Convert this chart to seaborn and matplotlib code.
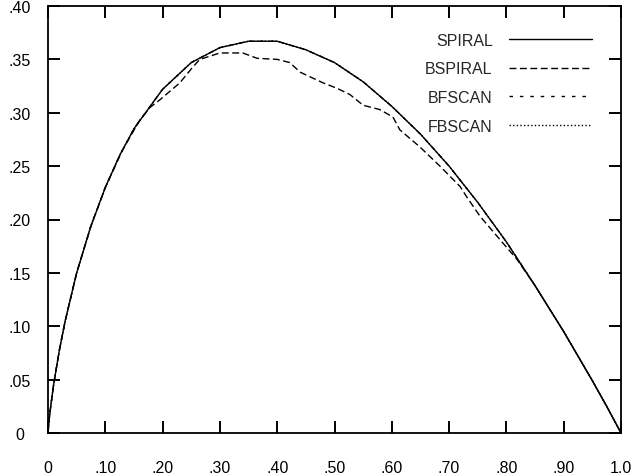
import matplotlib
matplotlib.use("Agg")
import matplotlib.pyplot as plt
import seaborn as sns
import pandas as pd
import numpy as np

# ---- data ----
spiral_x = [0, 0.0025, 0.005, 0.01, 0.02, 0.03, 0.05, 0.075, 0.10, 0.125, 0.15, 0.20, 0.25,
            0.30, 0.35, 0.40, 0.45, 0.50, 0.55, 0.60, 0.65, 0.70, 0.75, 0.80, 0.85,
            0.90, 0.95, 0.975, 1.0]
spiral_y = [0, 0.015, 0.026, 0.046, 0.078, 0.105, 0.150, 0.194, 0.230, 0.260, 0.285, 0.322, 0.347,
            0.361, 0.367, 0.367, 0.359, 0.347, 0.329, 0.306, 0.280, 0.250, 0.216, 0.179, 0.138,
            0.095, 0.049, 0.025, 0]

bspiral_x = [0, 0.0025, 0.005, 0.01, 0.02, 0.03, 0.05, 0.075, 0.10, 0.13, 0.16, 0.178, 0.195, 0.23,
             0.253, 0.265, 0.30, 0.34, 0.365, 0.40, 0.422, 0.44, 0.48, 0.504, 0.527, 0.55, 0.579,
             0.602, 0.614, 0.649, 0.684, 0.719, 0.731, 0.754, 0.789, 0.818, 0.85, 0.90, 0.95,
             0.975, 1.0]
bspiral_y = [0, 0.015, 0.026, 0.046, 0.078, 0.105, 0.150, 0.194, 0.230, 0.265, 0.293, 0.305, 0.312,
             0.328, 0.343, 0.350, 0.356, 0.356, 0.351, 0.350, 0.347, 0.338, 0.328, 0.323, 0.317,
             0.307, 0.303, 0.296, 0.284, 0.268, 0.250, 0.231, 0.221, 0.203, 0.181, 0.163, 0.138,
             0.095, 0.049, 0.025, 0]

bfscan_x = spiral_x
bfscan_y = [0, 0.015, 0.026, 0.046, 0.078, 0.105, 0.150, 0.194, 0.230, 0.260, 0.285, 0.322, 0.347,
            0.361, 0.367, 0.367, 0.359, 0.347, 0.329, 0.306, 0.280, 0.250, 0.216, 0.179, 0.138,
            0.095, 0.049, 0.025, 0]
fbscan_x = spiral_x
fbscan_y = [0, 0.015, 0.026, 0.046, 0.078, 0.105, 0.150, 0.194, 0.230, 0.260, 0.285, 0.322, 0.347,
            0.361, 0.367, 0.367, 0.359, 0.347, 0.329, 0.306, 0.280, 0.250, 0.216, 0.179, 0.138,
            0.095, 0.049, 0.025, 0]

series_names = ["SPIRAL", "BSPIRAL", "BFSCAN", "FBSCAN"]
x_ticks = [0, 0.1, 0.2, 0.3, 0.4, 0.5, 0.6, 0.7, 0.8, 0.9, 1.0]
x_labels = ["0", ".10", ".20", ".30", ".40", ".50", ".60", ".70", ".80", ".90", "1.0"]
y_ticks = [0, 0.05, 0.10, 0.15, 0.20, 0.25, 0.30, 0.35, 0.40]
y_labels = ["0", ".05", ".10", ".15", ".20", ".25", ".30", ".35", ".40"]
x_lim = (0, 1.0)
y_lim = (0, 0.40)

# ---- styling ----
sns.set_style("ticks")
plt.rcParams["font.family"] = ["Liberation Sans", "DejaVu Sans"]

fig, ax = plt.subplots(figsize=(6.35, 4.77), dpi=100)
fig.subplots_adjust(left=48/635, right=621/635, bottom=43/477, top=470/477)

styles = ["-", (0, (5, 2.5)), (0, (2.5, 5)), (0, (1, 1.6))]
data = [(spiral_x, spiral_y), (bspiral_x, bspiral_y), (bfscan_x, bfscan_y), (fbscan_x, fbscan_y)]
for name, (xs, ys), ls in zip(series_names, data, styles):
    df = pd.DataFrame({"x": xs, "y": ys})
    sns.lineplot(data=df, x="x", y="y", ax=ax, color="black", linewidth=1.0,
                 linestyle=ls, label=name, estimator=None, sort=False)

ax.set_xlim(*x_lim)
ax.set_ylim(*y_lim)
ax.set_xticks(x_ticks)
ax.set_xticklabels(x_labels)
ax.set_yticks(y_ticks)
ax.set_yticklabels(y_labels)
ax.set_xlabel("")
ax.set_ylabel("")

for s in ax.spines.values():
    s.set_visible(True)
    s.set_color("black")
    s.set_linewidth(1.3)

ax.tick_params(axis="both", which="major", direction="in", length=8.5, width=1.4,
               bottom=True, left=True, top=True, right=True,
               labelsize=11.5, color="black", labelcolor="black")
ax.tick_params(axis="x", pad=19.5)
ax.tick_params(axis="y", pad=20.5)
for lab in ax.get_yticklabels():
    lab.set_horizontalalignment("center")

leg = ax.legend(loc="upper right", bbox_to_anchor=(0.949, 0.937), frameon=False,
                markerfirst=False, fontsize=11.5, handlelength=5.2, handletextpad=1.0,
                labelspacing=0.85, borderpad=0, borderaxespad=0)

# ---- safety check: make sure the frame and tick marks actually render ----
fig.canvas.draw()
img = np.asarray(fig.canvas.buffer_rgba())[:, :, :3].astype(float).mean(axis=2)
H, W = img.shape
bb = ax.get_window_extent()
c0 = int(round(bb.x0))
r_a = int(H - bb.y0 - 0.55 * bb.height)
r_b = int(H - bb.y0 - 0.30 * bb.height)
spine_strip = img[r_a:r_b, max(c0 - 2, 0):c0 + 3].min(axis=1)
spine_ok = (spine_strip < 128).mean() > 0.5
tc = int(round(bb.x0 + 0.5 * bb.width))
tick_strip = img[int(H - bb.y0 - 10):int(H - bb.y0 - 4), tc - 2:tc + 3].min(axis=1)
tick_ok = (tick_strip < 128).mean() > 0.5

if not spine_ok:
    ax.plot([x_lim[0], x_lim[1], x_lim[1], x_lim[0], x_lim[0]],
            [y_lim[0], y_lim[0], y_lim[1], y_lim[1], y_lim[0]],
            color="black", linewidth=1.3, clip_on=False, zorder=5)
if not tick_ok:
    tick_px = 8.5 * 100 / 72
    dy = tick_px / bb.height * (y_lim[1] - y_lim[0])
    dx = tick_px / bb.width * (x_lim[1] - x_lim[0])
    for t in x_ticks:
        ax.plot([t, t], [y_lim[0], y_lim[0] + dy], color="black", linewidth=1.4, clip_on=False, zorder=5)
        ax.plot([t, t], [y_lim[1] - dy, y_lim[1]], color="black", linewidth=1.4, clip_on=False, zorder=5)
    for t in y_ticks:
        ax.plot([x_lim[0], x_lim[0] + dx], [t, t], color="black", linewidth=1.4, clip_on=False, zorder=5)
        ax.plot([x_lim[1] - dx, x_lim[1]], [t, t], color="black", linewidth=1.4, clip_on=False, zorder=5)

fig.savefig("out.png", dpi=100)
